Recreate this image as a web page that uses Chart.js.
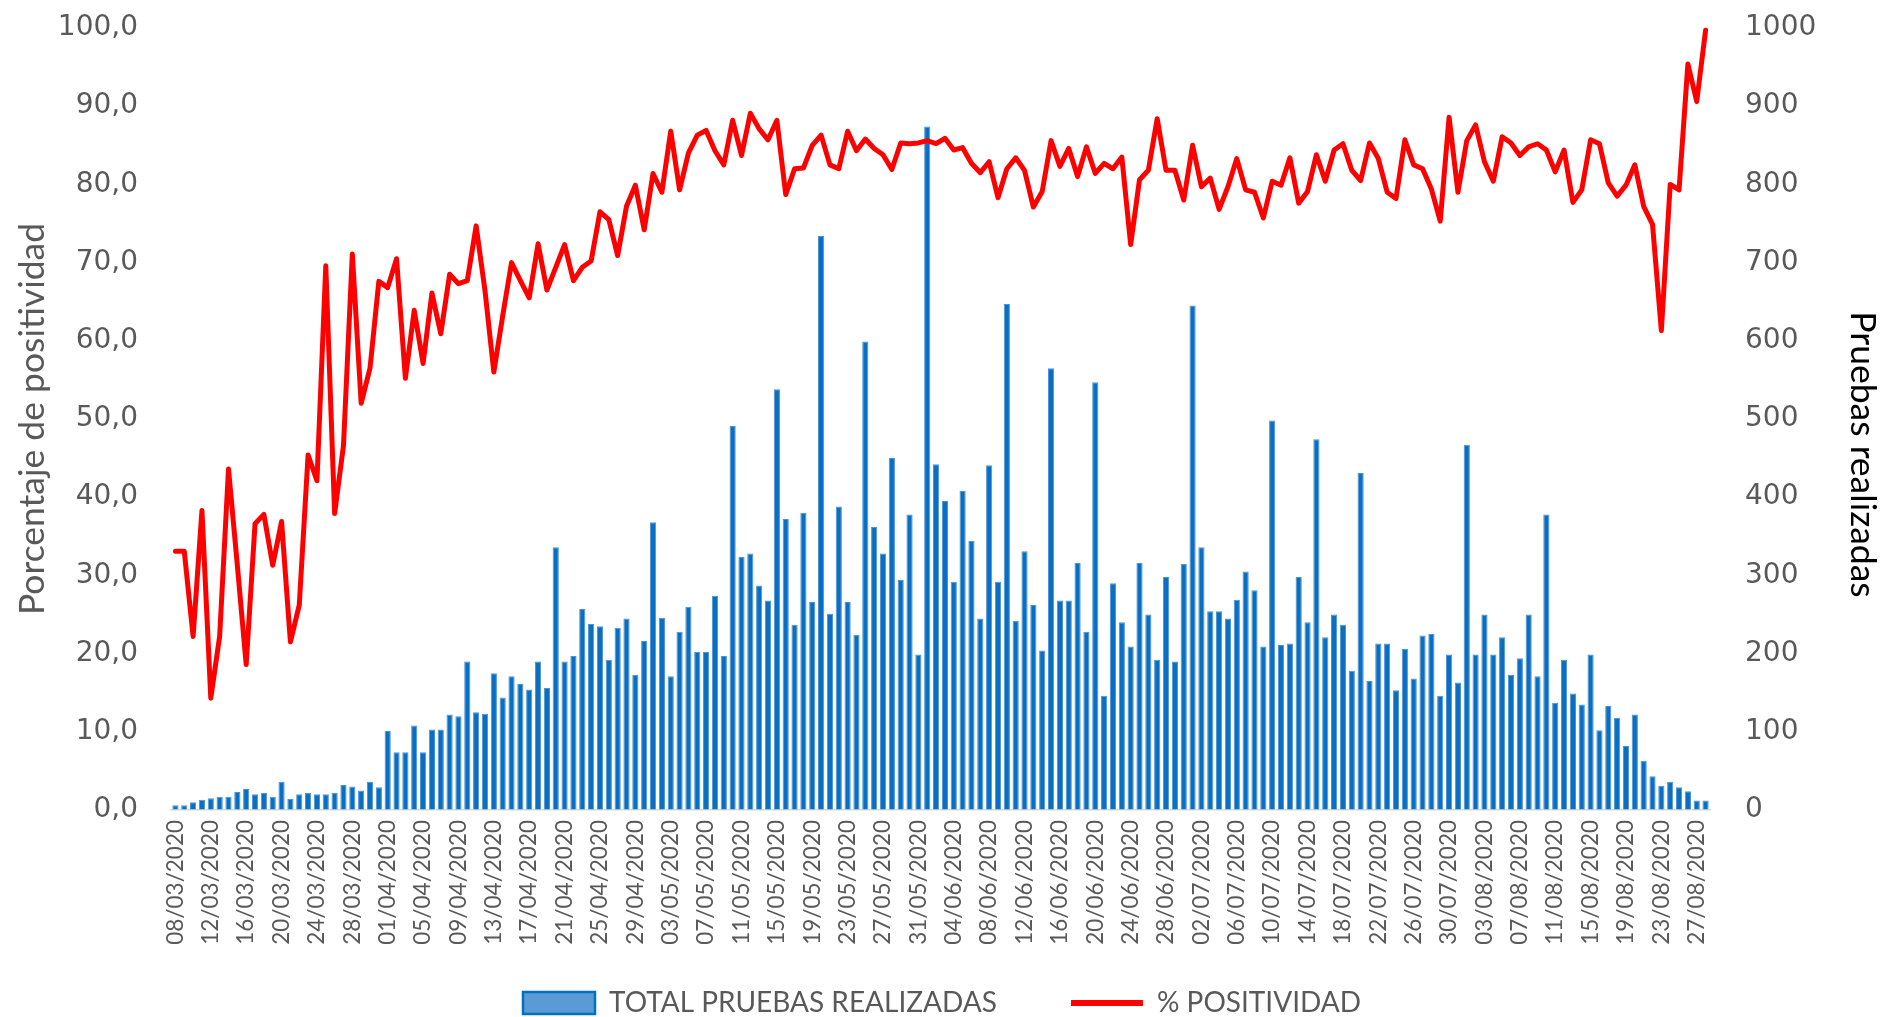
<!DOCTYPE html>
<html><head><meta charset="utf-8">
<script src="https://cdn.jsdelivr.net/npm/chart.js@4.4.1/dist/chart.umd.min.js"></script>
<style>html,body{margin:0;padding:0;background:#fff;overflow:hidden}</style>
</head><body>
<canvas id="c" width="1884" height="1017"></canvas>
<script>
const dates = [
 '08/03/2020','09/03/2020','10/03/2020','11/03/2020','12/03/2020','13/03/2020','14/03/2020','15/03/2020','16/03/2020','17/03/2020','18/03/2020','19/03/2020','20/03/2020','21/03/2020','22/03/2020','23/03/2020','24/03/2020','25/03/2020','26/03/2020','27/03/2020','28/03/2020','29/03/2020','30/03/2020','31/03/2020',
 '01/04/2020','02/04/2020','03/04/2020','04/04/2020','05/04/2020','06/04/2020','07/04/2020','08/04/2020','09/04/2020','10/04/2020','11/04/2020','12/04/2020','13/04/2020','14/04/2020','15/04/2020','16/04/2020','17/04/2020','18/04/2020','19/04/2020','20/04/2020','21/04/2020','22/04/2020','23/04/2020','24/04/2020','25/04/2020','26/04/2020','27/04/2020','28/04/2020','29/04/2020','30/04/2020',
 '01/05/2020','02/05/2020','03/05/2020','04/05/2020','05/05/2020','06/05/2020','07/05/2020','08/05/2020','09/05/2020','10/05/2020','11/05/2020','12/05/2020','13/05/2020','14/05/2020','15/05/2020','16/05/2020','17/05/2020','18/05/2020','19/05/2020','20/05/2020','21/05/2020','22/05/2020','23/05/2020','24/05/2020','25/05/2020','26/05/2020','27/05/2020','28/05/2020','29/05/2020','30/05/2020','31/05/2020',
 '01/06/2020','02/06/2020','03/06/2020','04/06/2020','05/06/2020','06/06/2020','07/06/2020','08/06/2020','09/06/2020','10/06/2020','11/06/2020','12/06/2020','13/06/2020','14/06/2020','15/06/2020','16/06/2020','17/06/2020','18/06/2020','19/06/2020','20/06/2020','21/06/2020','22/06/2020','23/06/2020','24/06/2020','25/06/2020','26/06/2020','27/06/2020','28/06/2020','29/06/2020','30/06/2020',
 '01/07/2020','02/07/2020','03/07/2020','04/07/2020','05/07/2020','06/07/2020','07/07/2020','08/07/2020','09/07/2020','10/07/2020','11/07/2020','12/07/2020','13/07/2020','14/07/2020','15/07/2020','16/07/2020','17/07/2020','18/07/2020','19/07/2020','20/07/2020','21/07/2020','22/07/2020','23/07/2020','24/07/2020','25/07/2020','26/07/2020','27/07/2020','28/07/2020','29/07/2020','30/07/2020','31/07/2020',
 '01/08/2020','02/08/2020','03/08/2020','04/08/2020','05/08/2020','06/08/2020','07/08/2020','08/08/2020','09/08/2020','10/08/2020','11/08/2020','12/08/2020','13/08/2020','14/08/2020','15/08/2020','16/08/2020','17/08/2020','18/08/2020','19/08/2020','20/08/2020','21/08/2020','22/08/2020','23/08/2020','24/08/2020','25/08/2020','26/08/2020','27/08/2020','28/08/2020'
];

const pruebas = [
 6,6,10,13,15,17,17,23,27,20,22,17,36,14,20,22,20,20,22,32,30,25,
 36,29,101,74,74,108,74,103,103,122,120,190,125,123,175,144,171,161,154,190,156,336,
 190,197,257,238,235,192,233,245,173,216,368,246,171,228,260,202,202,274,197,491,324,
 328,287,268,538,372,237,380,266,734,251,388,266,224,599,362,328,450,294,378,199,874,
 442,395,292,408,344,245,441,292,647,242,331,262,204,565,268,268,316,228,547,146,290,240,
 209,316,250,192,298,190,315,645,336,254,254,245,269,305,281,209,498,211,213,298,240,474,
 221,250,237,178,431,165,213,213,153,206,168,223,225,146,199,163,467,199,250,199,221,
 173,194,250,171,378,137,192,149,135,199,102,133,118,82,122,63,43,31,36,29,24,12,12
];

const positividad = [
 33.1,33.1,22.2,38.3,14.3,22.2,43.6,31.3,18.6,36.6,37.8,31.3,36.9,21.5,26.2,45.4,42.1,69.6,37.9,46.6,71.1,52.0,
 56.5,67.6,66.8,70.5,55.2,63.9,57.1,66.1,60.9,68.5,67.3,67.7,74.7,66.4,56.0,63.2,70.0,67.7,65.5,72.4,66.5,
 69.4,72.3,67.7,69.4,70.2,76.5,75.5,70.9,77.2,79.9,74.2,81.4,79.0,86.8,79.3,84.0,86.3,86.9,84.3,82.5,88.2,83.7,
 89.1,87.1,85.7,88.2,78.7,82.0,82.1,85.0,86.3,82.5,82.0,86.8,84.3,85.8,84.6,83.8,81.9,85.3,85.2,85.3,85.6,85.2,
 85.9,84.4,84.7,82.7,81.5,82.9,78.3,82.0,83.4,81.8,77.1,79.1,85.6,82.3,84.6,81.0,84.8,81.4,82.7,82.0,83.5,
 72.3,80.6,81.8,88.4,81.8,81.8,78.0,85.0,79.7,80.8,76.8,79.7,83.3,79.3,79.0,75.7,80.4,79.9,83.4,77.6,79.1,83.8,
 80.4,84.4,85.2,81.8,80.5,85.3,83.3,79.0,78.2,85.7,82.5,82.0,79.4,75.3,88.6,79.0,85.6,87.6,82.9,80.4,86.1,
 85.3,83.7,84.8,85.2,84.4,81.6,84.4,77.7,79.3,85.7,85.2,80.2,78.5,79.9,82.5,77.2,74.9,61.3,80.0,79.3,95.4,90.6,99.7
];

const seriesNames = ['TOTAL PRUEBAS REALIZADAS', '% POSITIVIDAD'];
const axisTitles = ['Porcentaje de positividad', 'Pruebas realizadas'];

const FONT_NUM = "'DejaVu Sans', Verdana, sans-serif";
const FONT_TXT = "Lato, 'Open Sans', sans-serif";
const GREY = '#595959';
const EN = '\u2002';

new Chart(document.getElementById('c'), {
  type: 'bar',
  data: {
    labels: dates,
    datasets: [
      {
        type: 'bar', label: seriesNames[0], data: pruebas, yAxisID: 'y1',
        backgroundColor: '#0a6fc2', borderColor: '#4a94d6', borderWidth: 1,
        barPercentage: 0.7, categoryPercentage: 1, order: 1
      },
      {
        type: 'line', label: seriesNames[1], data: positividad, yAxisID: 'y',
        borderColor: '#ff0000', backgroundColor: '#ff0000', borderWidth: 5,
        pointRadius: 0, tension: 0, fill: false, order: 0, clip: 10,
        borderJoinStyle: 'round', borderCapStyle: 'round'
      }
    ]
  },
  options: {
    responsive: false, animation: false, devicePixelRatio: 1,
    layout: { padding: { top: 28, bottom: -10, left: 0, right: 0 } },
    plugins: {
      tooltip: { enabled: false },
      legend: {
        position: 'bottom',
        labels: {
          usePointStyle: true, pointStyleWidth: 72, boxHeight: 22, padding: 39,
          color: GREY, font: { family: FONT_TXT, size: 28 },
          generateLabels: (chart) => {
            const items = Chart.defaults.plugins.legend.labels.generateLabels(chart);
            items.sort((a, b) => a.datasetIndex - b.datasetIndex);
            items.forEach(it => {
              if (it.datasetIndex === 0) {
                it.text = it.text + EN + EN + '\u2005';
                it.pointStyle = 'rect'; it.fillStyle = '#5b9bd5'; it.strokeStyle = '#0070c0'; it.lineWidth = 2.5;
              } else {
                it.pointStyle = 'line'; it.strokeStyle = '#ff0000'; it.lineWidth = 6;
              }
            });
            return items;
          }
        }
      }
    },
    scales: {
      x: {
        grid: { display: false, drawTicks: false },
        border: { display: true, color: '#d9d9d9', width: 1.5 },
        ticks: {
          autoSkip: false, maxRotation: 90, minRotation: 90, padding: 10,
          color: GREY, font: { family: FONT_TXT, size: 22.5 },
          callback: (v, i) => (i % 4 === 0 ? dates[i] : null)
        },
        afterFit: (s) => { s.height = 140; }
      },
      y: {
        position: 'left', min: 0, max: 100,
        grid: { display: true, drawOnChartArea: false, drawTicks: true, tickLength: 28, color: 'rgba(0,0,0,0)' },
        border: { display: false },
        ticks: {
          stepSize: 10, padding: 5, color: GREY, font: { family: FONT_NUM, size: 28 },
          callback: (v) => v.toFixed(1).replace('.', ',')
        },
        title: { display: true, text: axisTitles[0], color: GREY, font: { family: FONT_TXT, size: 35.5 }, padding: { top: 11, bottom: 0 } },
        afterFit: (s) => { s.width = 171; }
      },
      y1: {
        position: 'right', min: 0, max: 1000,
        grid: { display: true, drawOnChartArea: false, drawTicks: true, tickLength: 30, color: 'rgba(0,0,0,0)' },
        border: { display: false },
        ticks: { stepSize: 100, padding: 5, color: GREY, font: { family: FONT_NUM, size: 28 }, callback: (v) => String(v) },
        title: { display: true, text: EN + EN + EN + EN + axisTitles[1], color: '#000000', font: { family: FONT_TXT, size: 35.5 }, padding: { top: 0, bottom: 0 } },
        afterFit: (s) => { s.width = 174; }
      }
    }
  }
});
</script>
</body></html>
